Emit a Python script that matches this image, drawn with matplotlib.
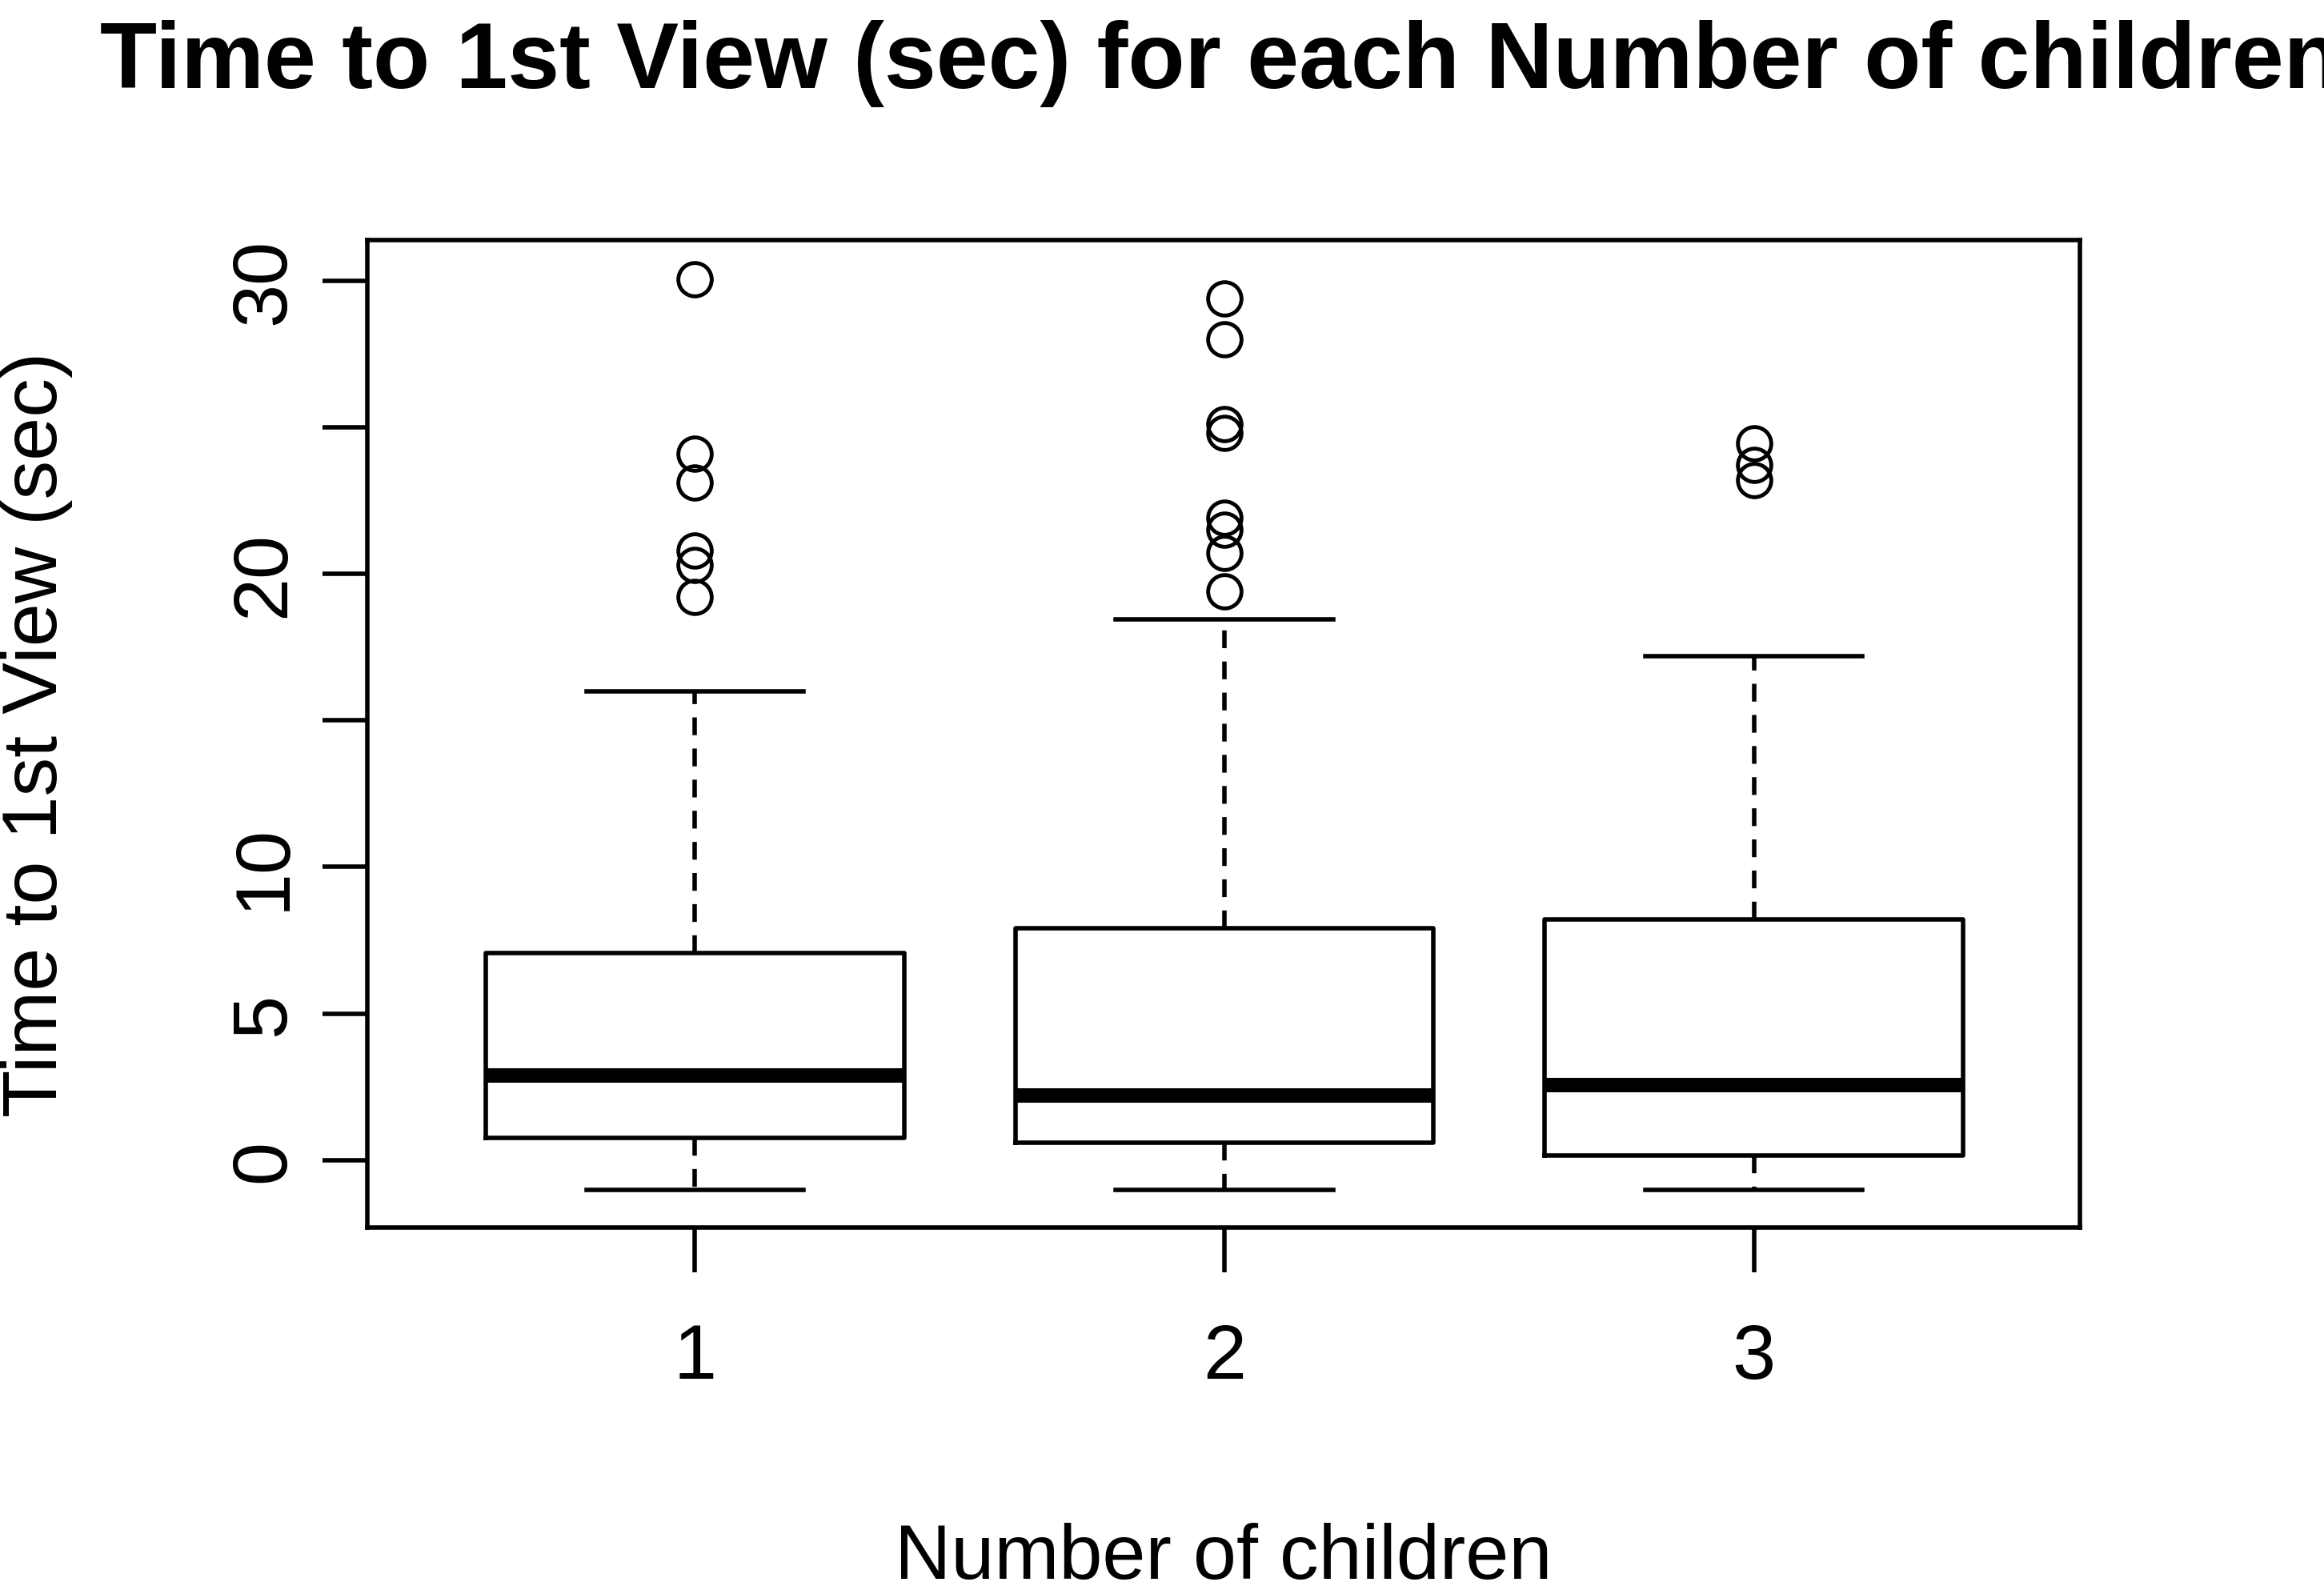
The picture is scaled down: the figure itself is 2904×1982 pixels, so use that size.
import matplotlib
matplotlib.use("Agg")
import matplotlib.pyplot as plt

plt.rcParams['font.family'] = ['Liberation Sans', 'DejaVu Sans']

categories = ["1", "2", "3"]
q1 = [0.76, 0.6, 0.15]
med = [2.9, 2.2, 2.55]
q3 = [7.07, 7.9, 8.2]
whislo = [-1.0, -1.0, -1.0]
whishi = [16.0, 18.45, 17.2]
fliers = [
    [30.05, 24.1, 23.1, 20.8, 20.3, 19.2],
    [29.4, 28.0, 25.1, 24.8, 21.9, 21.5, 20.7, 19.4],
    [24.45, 23.7, 23.2],
]

stats = [dict(q1=a, med=m, q3=b, whislo=lo, whishi=hi, fliers=f, label=c)
         for a, m, b, lo, hi, f, c in zip(q1, med, q3, whislo, whishi, fliers, categories)]

fig = plt.figure(figsize=(29.04, 19.83), dpi=100)
ax = fig.add_axes([0.158, 0.226, 0.737, 0.622])
lw = 4
ax.bxp(stats, positions=[1, 2, 3], widths=0.79, showfliers=True,
       boxprops=dict(color='black', linewidth=lw),
       medianprops=dict(color='black', linewidth=13, solid_capstyle='butt'),
       whiskerprops=dict(color='black', linewidth=lw, linestyle=(0, (4, 3))),
       capprops=dict(color='black', linewidth=lw),
       capwidths=0.41,
       flierprops=dict(marker='o', markerfacecolor='none', markeredgecolor='black',
                       markersize=30, markeredgewidth=3.5))
ax.set_xlim(0.381, 3.616)
ax.set_ylim(-2.29, 31.37)
ax.set_yticks([0, 5, 10, 15, 20, 25, 30])
ax.set_yticklabels(["0", "5", "10", "", "20", "", "30"], rotation=90, va='center')
ax.set_xticks([1, 2, 3])
ax.set_xticklabels(categories)
for s in ax.spines.values():
    s.set_linewidth(lw)
ax.tick_params(width=lw, length=40, labelsize=70, pad=45)
ax.tick_params(axis='y', pad=20)
ax.set_xlabel("Number of children", fontsize=70, labelpad=115)
ax.set_ylabel("Time to 1st View (sec)", fontsize=70, labelpad=140)
fig.text(0.525, 0.96, "Time to 1st View (sec) for each Number of children",
         ha='center', va='center', fontsize=84, fontweight='bold')
fig.savefig("out.png", dpi=100)
